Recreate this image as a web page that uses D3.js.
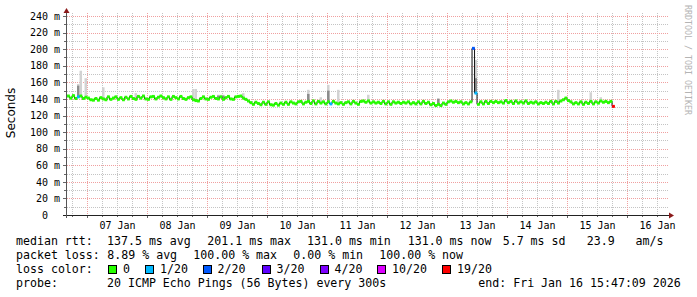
<!DOCTYPE html>
<html>
<head>
<meta charset="utf-8">
<script src="https://cdn.jsdelivr.net/npm/d3@7"></script>
<style>
  body { margin: 0; background: #fff; }
  svg text { font-family: "DejaVu Sans Mono", monospace; fill: #000; }
</style>
</head>
<body>
<div id="chart"></div>
<script>
// ---- data ----
// median rtt in ms, one value per hour starting 06 Jan 16:00 UTC
var medianStart = Date.UTC(2026, 0, 6, 16, 0, 0);
var medianStepMs = 3600 * 1000;
var medianRtt = [
  143.5, 141, 144, 140.5, 142.5, 143.5, 140.5, 142, 141, 139, 138.5, 140.5,
  138.5, 141.5, 140, 139, 142.5, 139.5, 141, 142.5, 139.5, 141.5, 139, 142,
  140, 143, 140.5, 139.5, 143, 141, 143.5, 140, 139.5, 142.5, 143, 140,
  142, 143.5, 141.5, 140, 142.5, 139.5, 143, 141.5, 140, 143, 140.5, 139.5,
  141.5, 142.5, 139, 138, 137.5, 140.5, 142.5, 140, 139.5, 142, 143, 140.5,
  140, 142.5, 139.5, 141.5, 143, 140, 139.5, 142.5, 143, 143.5, 141, 139.5,
  137.5, 135.5, 133.5, 136, 134.5, 133, 136, 133.5, 136.5, 133, 132.5, 134.5,
  132.5, 135, 133.5, 136, 133.5, 136.5, 135, 134, 136.5, 137, 134, 136,
  137, 134.5, 137.5, 134, 137, 135, 136.5, 134, 136.5, 134, 137, 135,
  134, 135.5, 133.5, 135.5, 136.5, 134, 137, 135, 133.5, 137, 137.5, 136,
  137.5, 135, 136.5, 135, 136, 134.5, 137, 134, 136.5, 133.5, 136.5, 135,
  136, 134.5, 136, 135, 136.5, 134, 135.5, 134, 136.5, 134, 137, 134.5,
  136, 133, 134.5, 132, 133.5, 132, 135, 133.5, 136.5, 137.5, 136, 137,
  135.5, 136.5, 134, 135.5, 134, 136.5, 201, 147, 133.5, 136.5, 134, 137,
  134.5, 137, 135.5, 137, 135.5, 136.5, 135, 138, 135.5, 137, 134.5, 137.5,
  135, 136.5, 135, 137.5, 134.5, 136, 135, 136.5, 134, 135.5, 134.5, 136,
  134.5, 137, 134, 137, 135, 137.5, 139, 141, 138, 136.5, 134, 135.5,
  134, 136.5, 133.5, 136, 134.5, 137, 134, 136.5, 135, 137.5, 136, 137,
  135.5, 137, 131
];
// [hour index, pings lost out of 20]; every other hour lost 0
var lossEvents = [[4, 1], [105, 1], [162, 2], [163, 1], [218, 19]];
// smoke spikes: [hour index, highest ping ms, second highest ping ms]
var smokeSpikes = [
  [4, 158, 156], [5, 174, 142], [7, 165, 141], [14, 154, 141], [27, 147, 141],
  [50, 152, 140], [51, 152, 140], [60, 145, 144], [61, 145, 144], [62, 145, 144],
  [70, 147, 142], [96, 151, 146], [101, 142, 136], [104, 157, 150], [108, 151, 135],
  [120, 145, 137], [148, 141, 140], [163, 187, 165], [196, 151, 137], [209, 148, 136],
  [213, 142, 137]
];

var lossLabels = ["0", "1/20", "2/20", "3/20", "4/20", "10/20", "19/20"];
var lossLimits = [0, 1, 2, 3, 4, 10, 19];
var lossColors = ["#26ff00", "#00b8ff", "#0059ff", "#5e00ff", "#7e00ff", "#dd00ff", "#ff0000"];

var yTicks = [0, 20, 40, 60, 80, 100, 120, 140, 160, 180, 200, 220, 240];
var dayLabels = [7, 8, 9, 10, 11, 12, 13, 14, 15, 16];

var rttStats = ["137.5 ms avg", "201.1 ms max", "131.0 ms min", "131.0 ms now", "5.7 ms sd", "23.9   am/s"];
var lossStats = ["8.89 % avg", "100.00 % max", "0.00 % min", "100.00 % now"];
var probeText = "20 ICMP Echo Pings (56 Bytes) every 300s";
var endText = "end: Fri Jan 16 15:47:09 2026";

// ---- layout ----
var chartW = 697, chartH = 297;
var plotLeft = 66.5, plotRight = 666.5, plotTop = 16, plotBottom = 215;

var svg = d3.select("#chart").append("svg")
  .attr("width", chartW)
  .attr("height", chartH);

var xScale = d3.scaleUtc()
  .domain([new Date(Date.UTC(2026, 0, 6, 15, 47, 9)), new Date(Date.UTC(2026, 0, 16, 15, 47, 9))])
  .range([plotLeft, plotRight]);
var yScale = d3.scaleLinear().domain([0, 240]).range([plotBottom, plotTop]);

function px(v) { return Math.round(v) + 0.5; }
// keep runs of spaces in monospaced legend strings
function keepSpaces(s) { return s.replace(/ /g, "\u00a0"); }

// grid
var grid = svg.append("g").attr("shape-rendering", "crispEdges").attr("fill", "none");
var yMinor = d3.range(10, 240, 20);
var yMajor = yTicks.filter(function(d) { return d > 0; });
grid.selectAll("line.ymin").data(yMinor).enter().append("line")
  .attr("x1", 67).attr("x2", 668)
  .attr("y1", function(d) { return px(yScale(d)); })
  .attr("y2", function(d) { return px(yScale(d)); })
  .attr("stroke", "#c4c4c4").attr("stroke-dasharray", "1,1");

var days = d3.utcDay.range(xScale.domain()[0], xScale.domain()[1]);
var sixHours = d3.utcHour.every(6).range(xScale.domain()[0], xScale.domain()[1])
  .filter(function(d) { return d.getUTCHours() !== 0; });
grid.selectAll("line.xmin").data(sixHours).enter().append("line")
  .attr("x1", function(d) { return px(xScale(d)); })
  .attr("x2", function(d) { return px(xScale(d)); })
  .attr("y1", 13).attr("y2", plotBottom)
  .attr("stroke", "#c4c4c4").attr("stroke-dasharray", "1,1");

grid.selectAll("line.ymaj").data(yMajor).enter().append("line")
  .attr("x1", 67).attr("x2", 668)
  .attr("y1", function(d) { return px(yScale(d)); })
  .attr("y2", function(d) { return px(yScale(d)); })
  .attr("stroke", "#f0a0a0").attr("stroke-dasharray", "1,1");
grid.selectAll("line.xmaj").data(days).enter().append("line")
  .attr("x1", function(d) { return px(xScale(d)); })
  .attr("x2", function(d) { return px(xScale(d)); })
  .attr("y1", 13).attr("y2", plotBottom)
  .attr("stroke", "#f0a0a0").attr("stroke-dasharray", "1,1");

// ticks on the axes
grid.selectAll("line.yt").data(d3.range(10, 250, 10)).enter().append("line")
  .attr("x1", function(d) { return d % 20 === 0 ? 63 : 64; }).attr("x2", 67)
  .attr("y1", function(d) { return px(yScale(d)); })
  .attr("y2", function(d) { return px(yScale(d)); })
  .attr("stroke", "#666");
grid.selectAll("line.xt").data(days.concat(sixHours)).enter().append("line")
  .attr("x1", function(d) { return px(xScale(d)); })
  .attr("x2", function(d) { return px(xScale(d)); })
  .attr("y1", plotBottom).attr("y2", function(d) { return d.getUTCHours() === 0 ? plotBottom + 3 : plotBottom + 2; })
  .attr("stroke", "#666");

// median points
var points = medianRtt.map(function(v, i) {
  return { t0: new Date(medianStart + i * medianStepMs), t1: new Date(medianStart + (i + 1) * medianStepMs), v: v, lost: 0 };
});
lossEvents.forEach(function(e) { points[e[0]].lost = e[1]; });

function lossColor(lost) {
  var k = 0;
  lossLimits.forEach(function(l, j) { if (lost >= l) k = j; });
  return lossColors[k];
}

// smoke
var smoke = svg.append("g");
smokeSpikes.forEach(function(s) {
  var p = points[s[0]];
  var x0 = xScale(p.t0), w = xScale(p.t1) - x0;
  smoke.append("rect")
    .attr("x", x0).attr("width", w)
    .attr("y", yScale(s[1])).attr("height", Math.max(0, yScale(p.v) - yScale(s[1])))
    .attr("fill", "#d2d2d2");
  if (s[2] > p.v + 1.5) {
    smoke.append("rect")
      .attr("x", x0).attr("width", w)
      .attr("y", yScale(s[2])).attr("height", Math.max(0, yScale(p.v) - yScale(s[2])))
      .attr("fill", "#8c8c8c");
  }
});

// thin dark median step line
var stepPts = points.map(function(p) { return [xScale(p.t0), yScale(p.v)]; });
var lastP = points[points.length - 1];
stepPts.push([xScale(lastP.t1), yScale(lastP.v)]);
svg.append("path")
  .attr("d", d3.line().curve(d3.curveStepAfter)(stepPts))
  .attr("fill", "none")
  .attr("stroke", "#111")
  .attr("stroke-width", 1);

// loss coloured median band
svg.append("g").selectAll("rect").data(points).enter().append("rect")
  .attr("x", function(d) { return xScale(d.t0); })
  .attr("width", function(d) { return xScale(d.t1) - xScale(d.t0) + 0.3; })
  .attr("y", function(d) { return yScale(d.v) - 1.5; })
  .attr("height", 3)
  .attr("fill", function(d) { return lossColor(d.lost); });

// axes
var yAxis = d3.axisLeft(yScale)
  .tickValues(yTicks)
  .tickSize(0)
  .tickPadding(7)
  .tickFormat(function(d) { return d === 0 ? "0\u00a0\u00a0" : d + "\u00a0m"; });
var yg = svg.append("g").attr("transform", "translate(67,0)").call(yAxis);
yg.select(".domain").remove();
yg.selectAll("text").attr("font-family", "DejaVu Sans Mono").attr("font-size", 10).attr("fill", "#000");

var noons = dayLabels.map(function(d) { return new Date(Date.UTC(2026, 0, d, 12, 0, 0)); });
var xAxis = d3.axisBottom(xScale)
  .tickValues(noons)
  .tickSize(0)
  .tickPadding(7)
  .tickFormat(d3.utcFormat("%d %b"));
var xg = svg.append("g").attr("transform", "translate(0," + plotBottom + ")").call(xAxis);
xg.select(".domain").remove();
xg.selectAll("text").attr("font-family", "DejaVu Sans Mono").attr("font-size", 10).attr("fill", "#000");

// axis lines and arrows
var ax = svg.append("g").attr("shape-rendering", "crispEdges");
ax.append("line").attr("x1", 63).attr("x2", 670).attr("y1", plotBottom + 0.5).attr("y2", plotBottom + 0.5).attr("stroke", "#222");
ax.append("line").attr("x1", 66.5).attr("x2", 66.5).attr("y1", 218).attr("y2", 12).attr("stroke", "#555");
svg.append("path").attr("d", "M669,212.5L674,215.5L669,218.5Z").attr("fill", "#8b1a1a");
svg.append("path").attr("d", "M63.5,13L66.5,8L69.5,13Z").attr("fill", "#8b1a1a");

// titles
svg.append("text")
  .attr("transform", "translate(15,113) rotate(-90)")
  .attr("text-anchor", "middle")
  .style("font-family", "'DejaVu Sans', sans-serif")
  .attr("font-size", 12)
  .text("Seconds");
svg.append("text")
  .attr("transform", "translate(685,5) rotate(90)")
  .attr("font-size", 8.3)
  .style("fill", "#b4b4b4")
  .text("RRDTOOL / TOBI OETIKER");

// legend
var lg = svg.append("g").attr("font-size", 11.6);
var row1X = [107, 207.3, 307, 407.7, 502.7, 586.7];
var row2X = [107.3, 193.3, 293.3, 379.3];
var swatchX = [108.5, 145.5, 203, 262, 320, 377.5, 442.5];

lg.append("text").attr("x", 16).attr("y", 245).text("median rtt:");
rttStats.forEach(function(s, i) { lg.append("text").attr("x", row1X[i]).attr("y", 245).text(keepSpaces(s)); });
lg.append("text").attr("x", 16).attr("y", 259).text("packet loss:");
lossStats.forEach(function(s, i) { lg.append("text").attr("x", row2X[i]).attr("y", 259).text(keepSpaces(s)); });
lg.append("text").attr("x", 16).attr("y", 273).text("loss color:");
lossLabels.forEach(function(s, i) {
  lg.append("rect")
    .attr("x", swatchX[i]).attr("y", 265.5).attr("width", 8).attr("height", 8)
    .attr("fill", lossColors[i]).attr("stroke", "#000").attr("shape-rendering", "crispEdges");
  lg.append("text").attr("x", swatchX[i] + 14.5).attr("y", 273).text(s);
});
lg.append("text").attr("x", 16).attr("y", 287).text("probe:");
lg.append("text").attr("x", 107).attr("y", 287).text(keepSpaces(probeText));
lg.append("text").attr("x", 478.3).attr("y", 287).text(keepSpaces(endText));
</script>
</body>
</html>
